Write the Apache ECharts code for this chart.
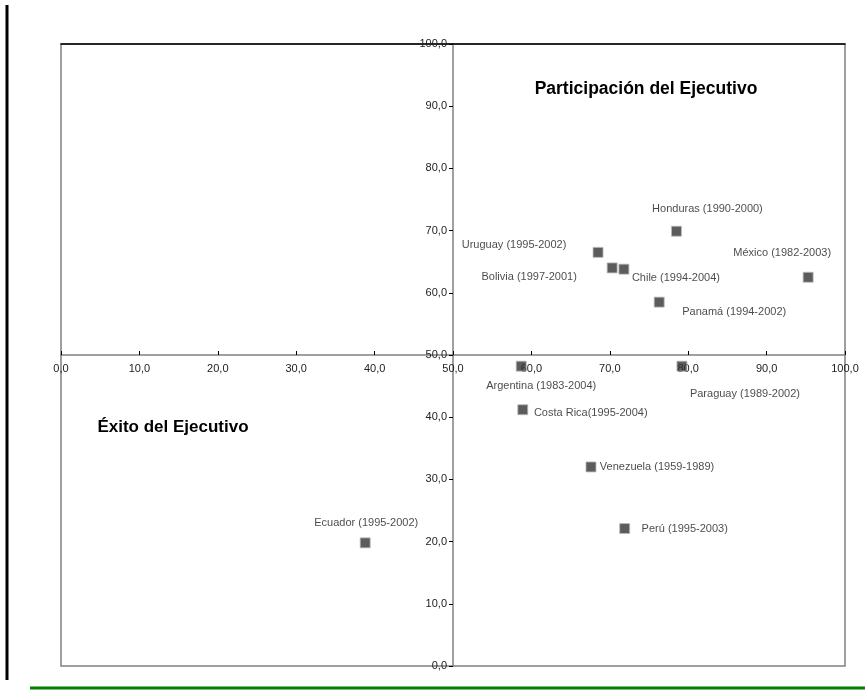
<!DOCTYPE html>
<html><head><meta charset="utf-8">
<script src="https://cdn.jsdelivr.net/npm/echarts@6/dist/echarts.min.js"></script>
<style>html,body{margin:0;padding:0;background:#fff}#c{width:865px;height:693px}</style>
</head><body><div id="c"></div>
<script>
// Data
const countries = ["Honduras (1990-2000)","Uruguay (1995-2002)","Bolivia (1997-2001)","Chile (1994-2004)","México (1982-2003)","Panamá (1994-2002)","Argentina (1983-2004)","Paraguay (1989-2002)","Costa Rica(1995-2004)","Venezuela (1959-1989)","Perú (1995-2003)","Ecuador (1995-2002)"];
const exito = [78.5, 68.5, 70.3, 71.8, 95.3, 76.3, 58.7, 79.2, 58.9, 67.6, 71.9, 38.8];
const participacion = [69.9, 66.5, 64.0, 63.8, 62.5, 58.5, 48.2, 48.2, 41.2, 32.0, 22.1, 19.8];
const axisTicks = [0,10,20,30,40,50,60,70,80,90,100];
// label placement (pixel offsets from each marker)
const labelOffsets = [[31,-22],[-84,-7],[-83,9],[52,9],[-26,-24],[75,10],[20,20],[63,28],[68,3],[66,0],[60,0],[1,-20]];

const fmt = v => v.toFixed(1).replace('.', ',');
const FONT = "'Liberation Sans', Arial, sans-serif";
const chart = echarts.init(document.getElementById('c'), null, {renderer:'canvas'});
const data = countries.map((n,i)=>({
  name:n, value:[exito[i], participacion[i]],
  label:{offset:labelOffsets[i]}
}));
chart.setOption({
  animation:false,
  backgroundColor:'#fff',
  grid:{left:61,right:20,top:44,bottom:27,show:true,borderColor:'#808080',borderWidth:1.5},
  xAxis:[{
    type:'value',min:axisTicks[0],max:axisTicks[axisTicks.length-1],interval:10,
    position:'bottom',offset:-311,
    axisLine:{show:true,onZero:false,lineStyle:{color:'#808080',width:1.5}},
    axisTick:{show:true,inside:true,length:4,lineStyle:{color:'#000'}},
    axisLabel:{formatter:fmt,color:'#222',fontSize:11,fontFamily:FONT,margin:8},
    splitLine:{show:false}
  },{
    type:'value',min:0,max:100,position:'top',
    axisLine:{show:true,onZero:false,lineStyle:{color:'#000',width:1.5}},
    axisTick:{show:false},axisLabel:{show:false},splitLine:{show:false}
  }],
  yAxis:{
    type:'value',min:axisTicks[0],max:axisTicks[axisTicks.length-1],interval:10,
    position:'left',offset:-392,
    axisLine:{show:true,onZero:false,lineStyle:{color:'#808080',width:1.5}},
    axisTick:{show:true,length:4,lineStyle:{color:'#000'}},
    axisLabel:{formatter:fmt,color:'#222',fontSize:11,fontFamily:FONT,margin:6},
    splitLine:{show:false}
  },
  series:[{
    type:'scatter',symbol:'rect',symbolSize:10,data:data,
    itemStyle:{color:'#333',borderColor:'#bbb',borderWidth:1},
    label:{show:true,position:'inside',align:'center',verticalAlign:'middle',
      formatter:p=>p.name,color:'#1a1a1a',fontSize:11,fontFamily:FONT},
    z:5
  }],
  graphic:[
    {type:'line',shape:{x1:7,y1:5,x2:7,y2:680},style:{stroke:'#000',lineWidth:3}},
    {type:'line',shape:{x1:30,y1:688,x2:865,y2:688},style:{stroke:'#008000',lineWidth:3}},
    {type:'text',x:646,y:89,style:{text:'Participación del Ejecutivo',font:"bold 17.5px "+FONT,fill:'#000',textAlign:'center',textVerticalAlign:'middle'}},
    {type:'text',x:173,y:427,style:{text:'Éxito del Ejecutivo',font:"bold 17px "+FONT,fill:'#000',textAlign:'center',textVerticalAlign:'middle'}}
  ]
});
</script></body></html>
